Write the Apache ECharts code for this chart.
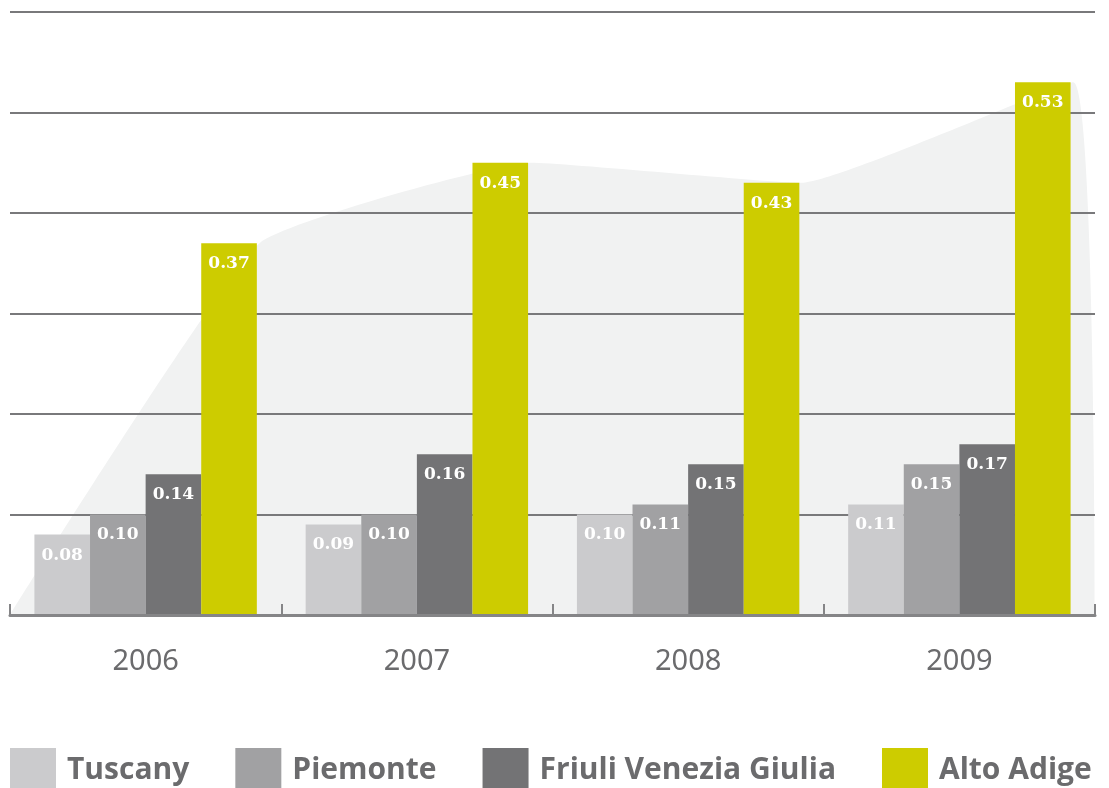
<!DOCTYPE html>
<html>
<head>
<meta charset="utf-8">
<script src="https://cdn.jsdelivr.net/npm/echarts@6/dist/echarts.min.js"></script>
<style>
  html, body { margin: 0; padding: 0; background: #fff; }
  #chart { width: 1109px; height: 788px; }
</style>
</head>
<body>
<div id="chart"></div>
<script>
const years = ['2006', '2007', '2008', '2009']
const tuscany = [0.08, 0.09, 0.10, 0.11]
const piemonte = [0.10, 0.10, 0.11, 0.15]
const friuli = [0.14, 0.16, 0.15, 0.17]
const altoAdige = [0.37, 0.45, 0.43, 0.53]
const yTicks = [0, 0.1, 0.2, 0.3, 0.4, 0.5, 0.6]

// backdrop follows the Alto Adige tops, closed to zero at both ends
const backdrop = [[0, 0]].concat(altoAdige.map((v, i) => [i + 0.92, v]), [[years.length, 0]])

const labelStyle = {
  show: true,
  position: 'insideTop',
  distance: 12,
  color: '#fff',
  fontFamily: 'DejaVu Serif',
  fontWeight: 'bold',
  fontSize: 17,
  formatter: p => p.value.toFixed(2)
}

function bar (name, data, color) {
  return {
    name: name,
    type: 'bar',
    data: data,
    xAxisIndex: 0,
    barGap: '0%',
    barCategoryGap: '18%',
    itemStyle: { color: color },
    label: labelStyle
  }
}

const chart = echarts.init(document.getElementById('chart'))
chart.setOption({
  animation: false,
  grid: { left: 10, right: 14, top: 12, bottom: 173 },
  legend: {
    left: 10,
    top: 748,
    padding: 0,
    itemGap: 46,
    itemWidth: 46,
    itemHeight: 44,
    icon: 'rect',
    textStyle: {
      fontFamily: 'Open Sans',
      fontWeight: 'bold',
      fontSize: 30,
      color: '#6b6b6d',
      padding: [0, 0, 0, 6]
    },
    data: ['Tuscany', 'Piemonte', 'Friuli Venezia Giulia', 'Alto Adige']
  },
  xAxis: [
    {
      type: 'category',
      data: years,
      z: 5,
      axisLine: { lineStyle: { color: '#858587', width: 3 } },
      axisTick: { show: true, inside: true, length: 11, lineStyle: { color: '#858587', width: 2 } },
      axisLabel: { margin: 32, fontFamily: 'Noto Sans', fontSize: 29, color: '#6b6b6d' }
    },
    {
      type: 'value',
      min: 0,
      max: years.length,
      show: false
    }
  ],
  yAxis: {
    type: 'value',
    min: yTicks[0],
    max: yTicks[yTicks.length - 1],
    interval: 0.1,
    axisLine: { show: false },
    axisTick: { show: false },
    axisLabel: { show: false },
    splitLine: { lineStyle: { color: '#79797b', width: 2 } }
  },
  series: [
    {
      type: 'line',
      xAxisIndex: 1,
      data: backdrop,
      smooth: 0.12,
      symbol: 'none',
      z: -1,
      silent: true,
      lineStyle: { width: 0 },
      areaStyle: { color: '#f1f2f2', opacity: 1 }
    },
    bar('Tuscany', tuscany, '#cbcbcd'),
    bar('Piemonte', piemonte, '#a1a1a3'),
    bar('Friuli Venezia Giulia', friuli, '#737375'),
    bar('Alto Adige', altoAdige, '#cdcc00')
  ]
})
</script>
</body>
</html>
